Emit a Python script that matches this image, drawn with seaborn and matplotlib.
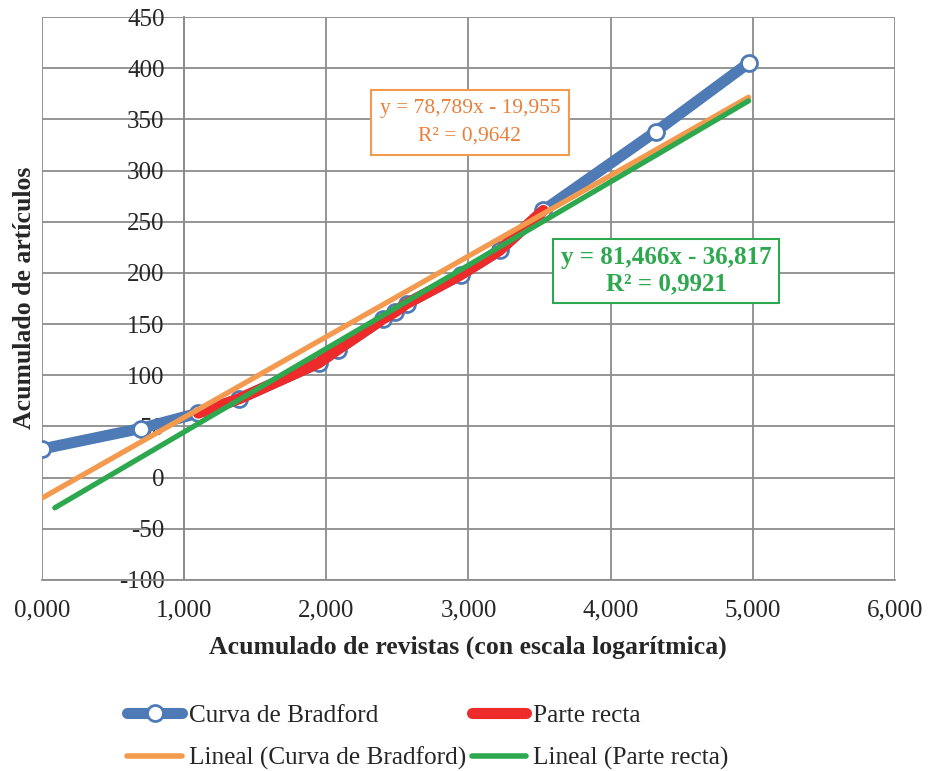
import numpy as np
import pandas as pd
import matplotlib
matplotlib.use("Agg")
import matplotlib.pyplot as plt
from matplotlib.lines import Line2D
from matplotlib.ticker import FuncFormatter
import seaborn as sns

# Bradford curve: ln(cumulative journals) vs cumulative articles
ln_revistas = [0.000, 0.693, 1.099, 1.386, 1.946, 2.079, 2.398, 2.485, 2.565, 2.944, 3.219, 3.526, 4.317, 4.970]
acum_articulos = [28, 48, 63, 77, 112, 125, 155, 162, 170, 198, 222, 261, 338, 405]

# Straight section of the curve (points 3 to 12)
recta_idx = list(range(2, 12))

# Linear trend lines (slope, intercept, R²) and the x range they cover
trend_bradford = (78.789, -19.955, 0.9642)
trend_recta = (81.466, -36.817, 0.9921)
range_bradford = [0.0, 4.97]
range_recta = [0.09, 4.97]

x_ticks = [0, 1, 2, 3, 4, 5, 6]
y_ticks = [-100, -50, 0, 50, 100, 150, 200, 250, 300, 350, 400, 450]

BLUE = "#4E7BB5"
RED = "#EE2B2B"
ORANGE = "#F39A4E"
GREEN = "#2EA84F"
GRID = "#8C8C8C"

sns.set_style("white")
plt.rcParams["font.family"] = ["Liberation Serif", "DejaVu Serif"]
plt.rcParams["font.size"] = 18

fig = plt.figure(figsize=(9.29, 7.71), dpi=100)
ax = fig.add_axes([42 / 929, 1 - 580 / 771, (895 - 42) / 929, (580 - 17) / 771])

df = pd.DataFrame({"x": ln_revistas, "y": acum_articulos})
df_recta = df.iloc[recta_idx]

sns.lineplot(data=df, x="x", y="y", ax=ax, color=BLUE, linewidth=8, sort=False,
             marker="o", markersize=11.5, markerfacecolor="white",
             markeredgecolor=BLUE, markeredgewidth=2, zorder=3)
sns.lineplot(data=df_recta, x="x", y="y", ax=ax, color=RED, linewidth=8,
             sort=False, zorder=4)

def trend_frame(coef, xr):
    m, b, _ = coef
    xs = np.array(xr)
    return pd.DataFrame({"x": xs, "y": m * xs + b})

sns.lineplot(data=trend_frame(trend_bradford, range_bradford), x="x", y="y", ax=ax,
             color=ORANGE, linewidth=3.8, zorder=5)
sns.lineplot(data=trend_frame(trend_recta, range_recta), x="x", y="y", ax=ax,
             color=GREEN, linewidth=3.8, zorder=6)

ax.set_xlim(0, 6)
ax.set_ylim(-100, 450)
ax.set_xticks(x_ticks)
ax.set_yticks(y_ticks)
ax.xaxis.set_major_formatter(FuncFormatter(lambda v, p: f"{v:.3f}".replace(".", ",")))
ax.yaxis.set_major_formatter(FuncFormatter(lambda v, p: f"{int(v)}"))
ax.grid(True, color=GRID, linewidth=1.3)
ax.set_axisbelow(True)

for s in ["top", "right"]:
    ax.spines[s].set_visible(False)
ax.spines["left"].set_position(("data", 1.0))
ax.spines["left"].set_color(GRID)
ax.spines["left"].set_linewidth(1.3)
ax.spines["bottom"].set_color(GRID)
ax.spines["bottom"].set_linewidth(1.3)
ax.tick_params(axis="y", direction="out", length=4, color=GRID, pad=10, labelsize=18)
ax.tick_params(axis="x", length=0, pad=14, labelsize=18)

ax.set_xlabel("")
ax.set_ylabel("")
fig.text(468 / 929, 1 - 647 / 771, "Acumulado de revistas (con escala logarítmica)",
         ha="center", va="center", fontsize=18.5, fontweight="bold")
fig.text(25 / 929, 1 - 298 / 771, "Acumulado de artículos", rotation=90,
         ha="center", va="center", fontsize=18.5, fontweight="bold")

def eq_text(coef):
    m, b, r2 = coef
    sign = "-" if b < 0 else "+"
    ms = f"{m:.3f}".replace(".", ",")
    bs = f"{abs(b):.3f}".replace(".", ",")
    rs = f"{r2:.4f}".replace(".", ",")
    return f"y = {ms}x {sign} {bs}\nR² = {rs}"

ax.text(3.01, 347, eq_text(trend_bradford), color="#E8803A",
        ha="center", va="center", fontsize=15.5, linespacing=1.65,
        bbox=dict(boxstyle="square,pad=0.4", fc="white", ec=ORANGE, lw=1.5), zorder=10)
ax.text(4.39, 202, eq_text(trend_recta), color=GREEN, fontweight="bold",
        ha="center", va="center", fontsize=18, linespacing=1.2,
        bbox=dict(boxstyle="square,pad=0.3", fc="white", ec=GREEN, lw=1.5), zorder=10)

handles = [
    Line2D([], [], color=BLUE, lw=8, marker="o", markersize=11.5, markerfacecolor="white",
           markeredgecolor=BLUE, markeredgewidth=2, solid_capstyle="round"),
    Line2D([], [], color=ORANGE, lw=4, solid_capstyle="round"),
    Line2D([], [], color=RED, lw=8, solid_capstyle="round"),
    Line2D([], [], color=GREEN, lw=4, solid_capstyle="round"),
]
labels = ["Curva de Bradford", "Lineal (Curva de Bradford)", "Parte recta", "Lineal (Parte recta)"]
fig.legend(handles, labels, loc="center", bbox_to_anchor=(428 / 929, 1 - 737 / 771),
           ncol=2, frameon=False, fontsize=18.2, handlelength=2.15, handletextpad=0.28,
           columnspacing=0.22, labelspacing=0.8, borderaxespad=0, borderpad=0)

fig.savefig("out.png", dpi=100)
